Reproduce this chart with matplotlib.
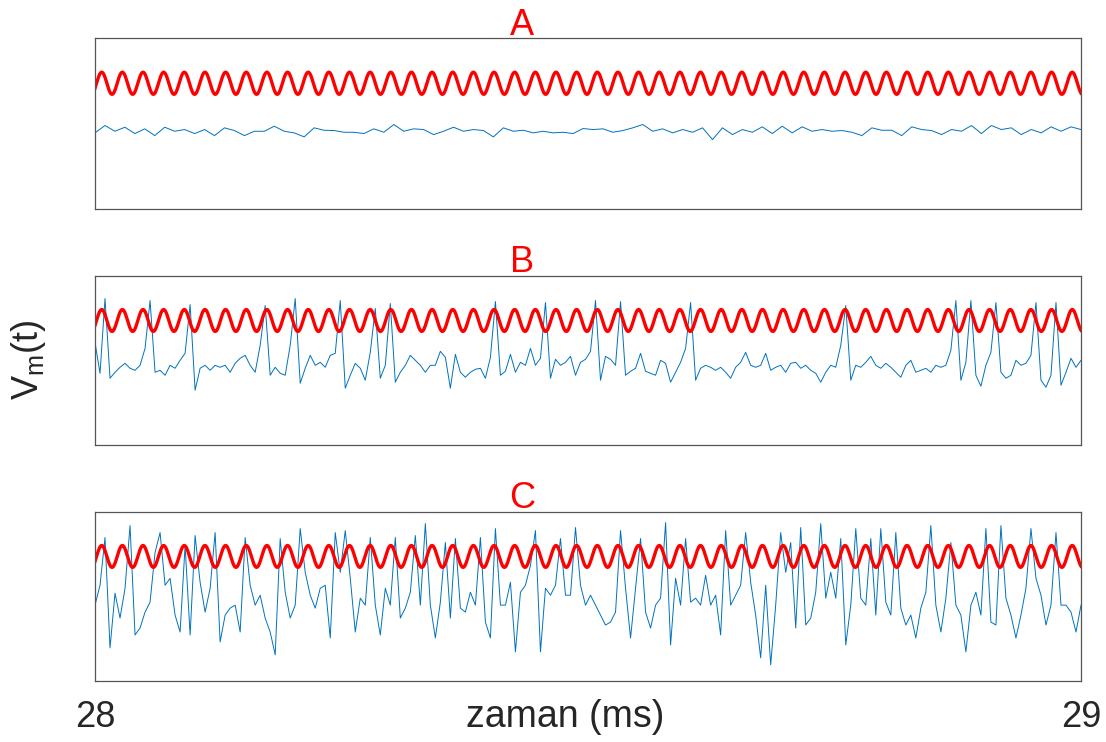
import numpy as np
import matplotlib.pyplot as plt

plt.rcParams['font.family'] = ['Liberation Sans', 'DejaVu Sans']
plt.rcParams['mathtext.default'] = 'regular'

panel_titles = ['A', 'B', 'C']
x_ticks = [28, 29]
x_label = 'zaman (ms)'
y_label = r'$V_m(t)$'

# red drive signal (period ~20.65 px over a 986 px wide axis)
drive_freq = 47.75      # cycles per ms
drive_peak = 28.0068    # first crest
drive_mean = 125
drive_amp = 11

# blue traces, values read at even steps along the time axis
vm_a = [75.7, 83, 77.3, 81.3, 75, 79.7, 73, 81.3, 77.3, 79,
        75, 79, 73, 80.7, 78, 73, 77.3, 77.3, 82.3, 77.3,
        75.7, 71.7, 80.7, 78.3, 78, 76.3, 76.3, 75, 79.7, 76.3,
        84, 77.3, 79.7, 79, 74, 77.3, 81.3, 77.3, 79, 78,
        71.7, 80.7, 77.3, 78.3, 75.7, 77.3, 75.7, 76.3, 75, 80,
        79, 79.7, 76.3, 78, 80.7, 84, 77.3, 79.7, 75.7, 79,
        76.3, 80.7, 69, 80.7, 74, 79, 76.3, 81.7, 75, 82.3,
        75.7, 81.7, 77.3, 79, 77.3, 78, 76.3, 73, 80.7, 78.3,
        78.3, 73, 81.7, 79, 78, 74, 79, 77.3, 83, 75,
        83, 79, 80.7, 74, 79, 75.7, 81.7, 77.3, 81.7, 79]

vm_b = [103, 72, 147, 67, 73, 78, 82, 77, 75, 80,
        97, 145, 73, 75, 70, 80, 77, 85, 92, 141,
        55, 77, 80, 75, 80, 78, 80, 73, 82, 87,
        90, 80, 73, 100, 140, 70, 78, 72, 70, 100,
        147, 62, 77, 90, 80, 83, 78, 90, 92, 145,
        57, 70, 82, 77, 65, 93, 137, 67, 80, 142,
        63, 73, 80, 90, 85, 80, 73, 80,
        80, 94, 88, 57, 91, 73, 68, 73, 76, 77,
        67, 88, 144, 70, 74, 91, 73, 83, 80, 97,
        80, 87, 143, 67, 86, 80, 83, 89, 70, 83,
        86, 94, 145, 65, 89, 86, 80, 144, 70, 74,
        77, 92, 74, 72, 70, 85, 82, 63, 73, 83,
        97, 143, 65, 77, 80, 78, 75, 78, 73, 67,
        78, 83, 93, 80, 78,
        80, 92, 75, 78, 80, 73, 82, 83, 77, 80,
        75, 72, 63, 73, 80, 78, 100, 140, 65, 80,
        78, 83, 89, 80, 77, 82, 78, 73, 68, 80,
        85, 73, 75, 77, 73, 80, 78, 80, 95, 145,
        65, 83, 145, 70, 59, 80, 93, 143, 73, 67,
        70, 85, 80, 82, 90, 143, 65, 58, 70, 143,
        60, 73, 87, 78, 85]

vm_c = [76, 96, 144, 33, 88, 63, 93, 156, 46, 53,
        69, 79, 129, 149, 96, 103, 66, 49, 136, 46,
        146, 99, 69, 93, 149, 39, 66, 73, 76, 49,
        144, 96, 76, 86, 63, 49, 26, 143, 89, 63,
        76, 153, 109, 86, 73, 93, 96, 43, 149, 109,
        151, 103, 49, 83, 76, 144, 76, 46, 93, 76,
        144, 63, 73, 89, 146, 76, 158, 76,
        43, 79, 139, 63, 143, 73, 69, 89, 76, 144,
        59, 43, 153, 76, 76, 99, 29, 89, 96, 116,
        151, 29, 93, 86, 96, 143, 86, 86, 154, 96,
        76, 86, 76, 66, 56, 59, 69, 151, 93, 43,
        93, 143, 69, 53, 76, 83, 159, 36, 103, 76,
        143, 79, 83, 76, 106, 76, 86, 46, 151, 76,
        86, 96, 149, 99, 66,
        23, 96, 16, 76, 149, 109, 139, 53, 154, 56,
        63, 89, 158, 83, 109, 83, 143, 36, 76, 153,
        83, 76, 143, 66, 153, 79, 66, 149, 73, 56,
        66, 43, 73, 89, 156, 76, 49, 83, 139, 76,
        66, 29, 76, 89, 66, 153, 59, 56, 156, 83,
        66, 43, 66, 93, 153, 103, 86, 56, 76, 149,
        76, 76, 69, 49, 76]

traces = [vm_a, vm_b, vm_c]

fig = plt.figure(figsize=(11.06, 7.42), dpi=100)
# axes boxes [left, bottom, width, height] in figure fractions
boxes = [[0.0859, 0.7183, 0.8915, 0.2305],
         [0.0859, 0.4003, 0.8915, 0.2282],
         [0.0859, 0.0826, 0.8915, 0.2278]]

t_drive = np.linspace(28, 29, 3000)
drive = drive_mean + drive_amp * np.cos(2 * np.pi * drive_freq * (t_drive - drive_peak))

axes = []
for box, title, vm in zip(boxes, panel_titles, traces):
    ax = fig.add_axes(box)
    t = np.linspace(28, 29, len(vm))
    ax.plot(t, vm, color='#0072BD', lw=0.7)
    ax.plot(t_drive, drive, color='#FF0000', lw=2.4)
    ax.set_xlim(28, 29)
    ax.set_ylim(0, 170)
    ax.set_yticks([])
    ax.set_xticks([])
    for s in ax.spines.values():
        s.set_color('#555555')
        s.set_linewidth(0.9)
    ax.text(0.433, 1.02, title, transform=ax.transAxes, ha='center',
            va='baseline', color='red', fontsize=26)
    axes.append(ax)

axes[-1].set_xticks(x_ticks)
axes[-1].set_xticklabels([str(v) for v in x_ticks])
axes[-1].tick_params(axis='x', length=0, pad=14, labelsize=26, colors='#262626')

fig.text(565 / 1106, 1 - 727 / 742, x_label, ha='center', va='baseline',
         fontsize=27, color='#262626')
fig.text(28 / 1106, 1 - 360 / 742, y_label, ha='center', va='center',
         rotation=90, fontsize=26, color='#262626')

fig.savefig('out.png', dpi=100)
